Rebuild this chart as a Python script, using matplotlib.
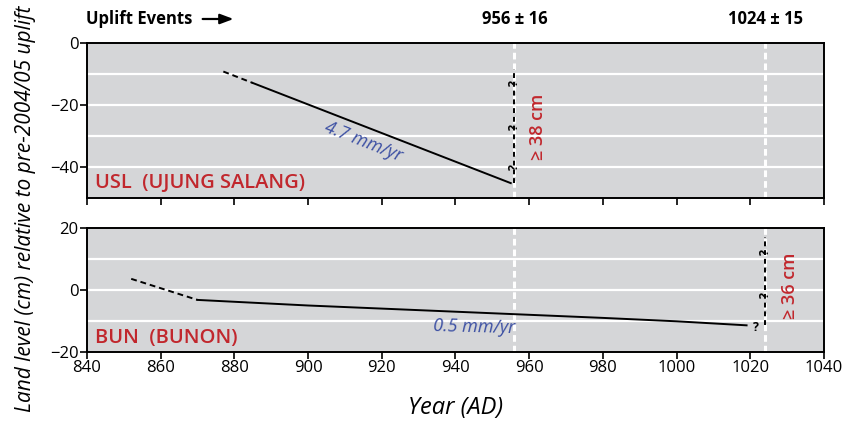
import matplotlib
matplotlib.use('Agg')
import matplotlib.pyplot as plt
from matplotlib.transforms import blended_transform_factory

plt.rcParams['font.family'] = ['Open Sans', 'DejaVu Sans']

# 数据
usl_dash_x = [877, 885]
usl_dash_y = [-9.2, -12.9]
usl_x = [885, 955]
usl_y = [-12.9, -45.2]
usl_gap_x = [956, 956]
usl_gap_y = [-45.2, -8.5]
usl_q_y = [-13, -27, -40]

bun_dash_x = [852, 870]
bun_dash_y = [3.6, -3.2]
bun_x = [870, 900, 940, 980, 1000, 1019]
bun_y = [-3.2, -5.0, -7.0, -9.0, -10.1, -11.4]
bun_gap_x = [1024, 1024]
bun_gap_y = [-11.4, 17.2]
bun_q_y = [12.3, -1.6]

events = [956, 1024]
event_labels = ['956 ± 16', '1024 ± 15']
xticks = [840, 860, 880, 900, 920, 940, 960, 980, 1000, 1020, 1040]

BG = '#d5d6d8'
RED = '#c1272d'
BLUE = '#3b4fa3'

fig = plt.figure(figsize=(8.47, 4.22), dpi=100)
ax1 = fig.add_axes([0.1027, 0.5308, 0.8701, 0.3673])
ax2 = fig.add_axes([0.1027, 0.1659, 0.8701, 0.2938])


def style_axes(ax, ylim, yticks, grid):
    ax.set_facecolor(BG)
    ax.set_xlim(840, 1040)
    ax.set_ylim(*ylim)
    ax.set_xticks(xticks)
    ax.set_yticks(yticks)
    for g in grid:
        ax.axhline(g, color='white', lw=1.6, zorder=1)
    for ev in events:
        ax.axvline(ev, color='white', lw=2.2, ls=(0, (2.2, 1.3)), zorder=2)
    for s in ax.spines.values():
        s.set_linewidth(1.4)
    ax.tick_params(direction='out', length=5, width=1.2, labelsize=12, pad=1)


style_axes(ax1, (-50, 0), [0, -20, -40], [-10, -20, -30, -40])
style_axes(ax2, (-20, 20), [20, 0, -20], [10, 0, -10])
ax1.tick_params(axis='x', labelbottom=False)

# USL
ax1.plot(usl_dash_x, usl_dash_y, color='black', lw=1.4, ls=(0, (3, 2)), zorder=3)
ax1.plot(usl_x, usl_y, color='black', lw=1.4, zorder=3)
ax1.plot(usl_gap_x, usl_gap_y, color='black', lw=1.4, ls=(0, (2.5, 2)), zorder=3)
for q in usl_q_y:
    ax1.text(usl_gap_x[0], q, '?', rotation=90, ha='center', va='center',
             fontsize=9, fontweight='bold', zorder=4)
ax1.text(915, -31.8, '4.7 mm/yr', color=BLUE, style='italic', fontsize=13,
         rotation=-21.6, ha='center', va='center', rotation_mode='anchor')
ax1.text(962.4, -26.9, '≥ 38 cm', color=RED, fontsize=13, fontweight='semibold',
         rotation=90, ha='center', va='center')
ax1.text(842.2, -45.3, 'USL  (UJUNG SALANG)', color=RED, fontsize=14.5,
         fontweight='semibold', ha='left', va='center')

# BUN
ax2.plot(bun_dash_x, bun_dash_y, color='black', lw=1.4, ls=(0, (3, 2)), zorder=3)
ax2.plot(bun_x, bun_y, color='black', lw=1.4, zorder=3)
ax2.plot(bun_gap_x, bun_gap_y, color='black', lw=1.4, ls=(0, (2.5, 2)), zorder=3)
for q in bun_q_y:
    ax2.text(bun_gap_x[0], q, '?', rotation=90, ha='center', va='center',
             fontsize=9, fontweight='bold', zorder=4)
ax2.text(1021.5, -12, '?', ha='center', va='center', fontsize=9,
         fontweight='bold', zorder=4)
ax2.text(945, -12, '0.5 mm/yr', color=BLUE, style='italic', fontsize=13,
         rotation=-1.5, ha='center', va='center')
ax2.text(1030.8, 1.4, '≥ 36 cm', color=RED, fontsize=13, fontweight='semibold',
         rotation=90, ha='center', va='center')
ax2.text(842.2, -15.5, 'BUN  (BUNON)', color=RED, fontsize=14.5,
         fontweight='semibold', ha='left', va='center')

# 上方标题
trans = blended_transform_factory(ax1.transData, ax1.transAxes)
for ev, lab in zip(events, event_labels):
    ax1.text(ev, 1.155, lab, transform=trans, ha='center', va='center',
             fontsize=12, fontweight='bold')
fig.text(0.1015, 0.955, 'Uplift Events', ha='left', va='center',
         fontsize=12, fontweight='bold')
ax1.annotate('', xy=(0.279, 0.955), xytext=(0.236, 0.955),
             xycoords='figure fraction',
             arrowprops=dict(arrowstyle='-|>,head_length=0.8,head_width=0.3',
                             color='black', lw=1.6))

fig.text(0.5378, 0.033, 'Year (AD)', ha='center', va='center',
         fontsize=17, style='italic')
fig.text(0.030, 0.505, 'Land level (cm) relative to pre-2004/05 uplift',
         rotation=90, ha='center', va='center', fontsize=15, style='italic')

fig.savefig('out.png', dpi=100)
